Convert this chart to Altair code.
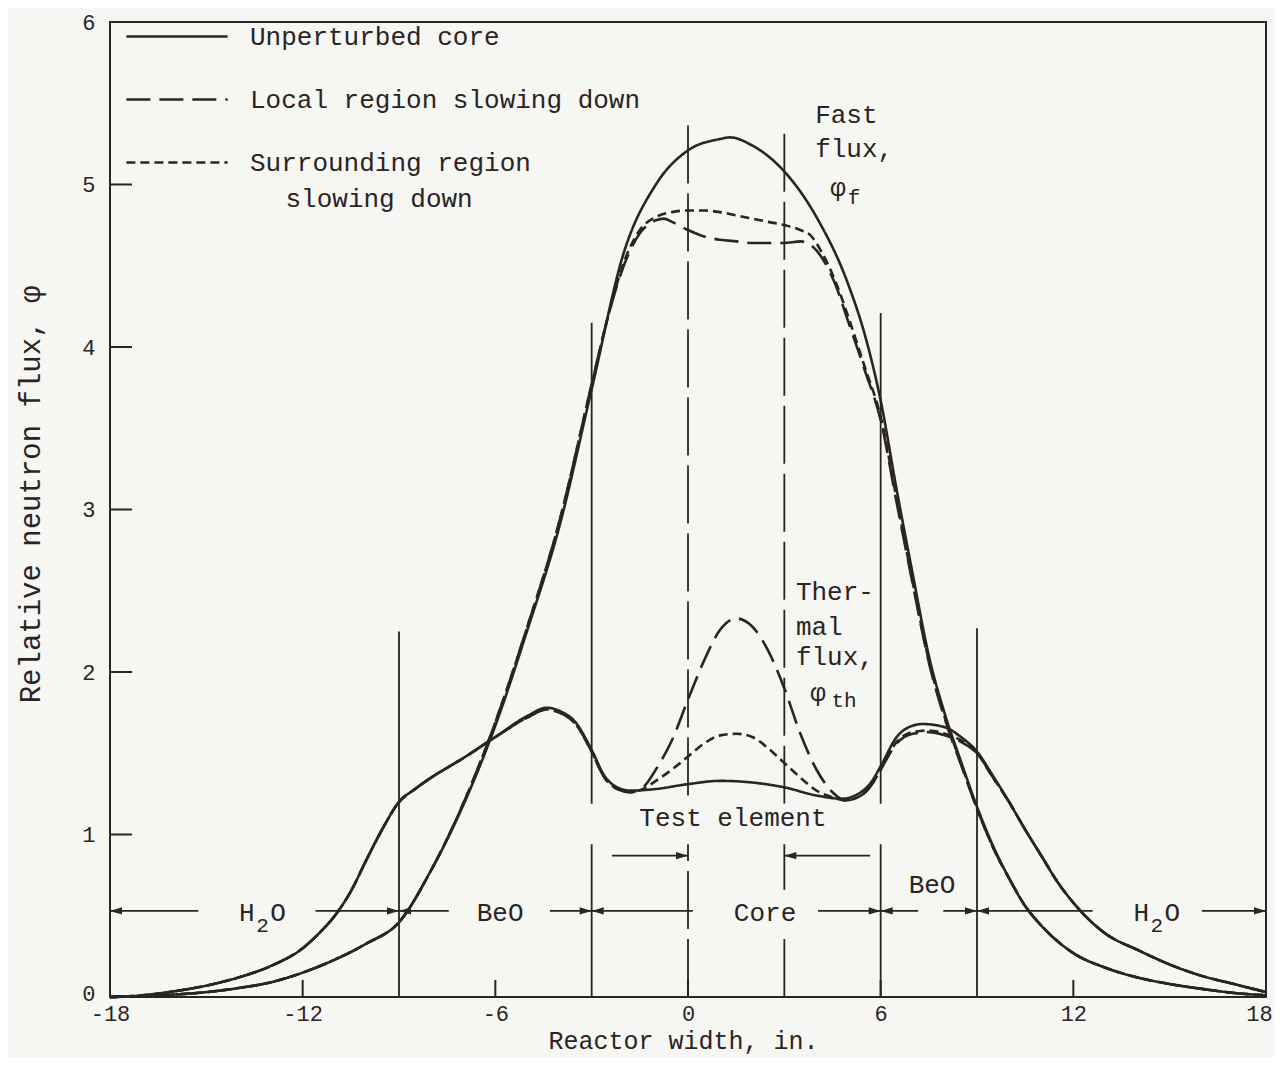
import altair as alt
import pandas as pd

INK = "#2a2424"
BG = "#f6f6f3"
FONT = "Liberation Mono"

# ---------------- data ----------------
series_names = ["Unperturbed core", "Local region slowing down", "Surrounding region slowing down"]

# Fast flux
fast_unpert_x = [-18, -17, -16, -15, -14, -13, -12, -11, -10, -9, -8, -7, -6, -5, -4, -3,
                 -2, -1, 0, 1, 1.3, 2, 3, 4, 5, 5.5, 6,
                 6.5, 7, 7.5, 8, 8.5, 9, 9.5, 10, 10.5, 11,
                 12, 13, 14, 15, 16, 17, 18]
fast_unpert_y = [0, 0.005, 0.015, 0.03, 0.055, 0.09, 0.15, 0.23, 0.33, 0.46, 0.78, 1.18, 1.67, 2.26, 2.9, 3.74,
                 4.58, 5.0, 5.21, 5.28, 5.29, 5.24, 5.08, 4.8, 4.38, 4.08, 3.67,
                 3.12, 2.6, 2.1, 1.74, 1.45, 1.17, 0.93, 0.73, 0.56, 0.44,
                 0.27, 0.18, 0.12, 0.08, 0.05, 0.025, 0.01]

fast_local_x = [-18, -17, -16, -15, -14, -13, -12, -11, -10, -9, -8, -7, -6, -5, -4, -3,
                -2.5, -2, -1.5, -1, -0.75, -0.5, 0, 0.5, 1, 1.5, 2, 2.5, 3, 3.5, 3.8, 4.2, 4.6, 5, 5.5, 6,
                6.5, 7, 7.5, 8, 8.5, 9, 9.5, 10, 10.5, 11,
                12, 13, 14, 15, 16, 17, 18]
fast_local_y = [0, 0.005, 0.015, 0.03, 0.055, 0.09, 0.15, 0.23, 0.33, 0.46, 0.78, 1.19, 1.69, 2.28, 2.93, 3.77,
                4.18, 4.5, 4.7, 4.78, 4.79, 4.77, 4.72, 4.68, 4.66, 4.65, 4.64, 4.64, 4.64, 4.65, 4.63, 4.54, 4.38, 4.15, 3.86, 3.55,
                3.04, 2.54, 2.06, 1.71, 1.43, 1.16, 0.92, 0.73, 0.56, 0.44,
                0.27, 0.18, 0.12, 0.08, 0.05, 0.025, 0.01]

fast_surr_x = [-18, -17, -16, -15, -14, -13, -12, -11, -10, -9, -8, -7, -6, -5, -4, -3,
               -2.5, -2, -1.5, -1, -0.5, 0, 0.5, 1, 1.5, 2, 2.5, 3, 3.5, 3.8, 4.2, 4.6, 5, 5.5, 6,
               6.5, 7, 7.5, 8, 8.5, 9, 9.5, 10, 10.5, 11,
               12, 13, 14, 15, 16, 17, 18]
fast_surr_y = [0, 0.005, 0.015, 0.03, 0.055, 0.09, 0.15, 0.23, 0.33, 0.46, 0.78, 1.19, 1.69, 2.28, 2.93, 3.77,
               4.18, 4.52, 4.72, 4.8, 4.83, 4.84, 4.84, 4.83, 4.81, 4.79, 4.77, 4.75, 4.72, 4.69, 4.57, 4.4, 4.18, 3.88, 3.57,
               3.06, 2.55, 2.07, 1.72, 1.44, 1.16, 0.92, 0.73, 0.56, 0.44,
               0.27, 0.18, 0.12, 0.08, 0.05, 0.025, 0.01]

# Thermal flux
therm_unpert_x = [-18, -17, -16, -15, -14, -13, -12,
                  -11.5, -11, -10.5, -10, -9.5, -9, -8.5, -8,
                  -7, -6, -5, -4.4, -4, -3.5, -3, -2.6, -2.2, -1.8,
                  -1, 0, 1, 2, 3, 4, 4.8, 5.3, 5.7, 6,
                  6.5, 7, 7.3, 8, 8.5, 9, 9.5, 10, 10.5, 11, 11.5, 12,
                  13, 14, 15, 16, 17, 18]
therm_unpert_y = [0, 0.01, 0.035, 0.07, 0.12, 0.19, 0.3,
                  0.39, 0.5, 0.65, 0.85, 1.04, 1.2, 1.28, 1.35,
                  1.47, 1.6, 1.73, 1.78, 1.76, 1.69, 1.52, 1.36, 1.29, 1.27,
                  1.28, 1.31, 1.33, 1.32, 1.29, 1.24, 1.22, 1.25, 1.32, 1.42,
                  1.6, 1.67, 1.68, 1.66, 1.6, 1.51, 1.36, 1.2, 1.03, 0.87, 0.71, 0.58,
                  0.39, 0.29, 0.2, 0.13, 0.08, 0.03]

therm_pert_x = [-18, -17, -16, -15, -14, -13, -12,
                -11.5, -11, -10.5, -10, -9.5, -9, -8.5, -8,
                -7, -6, -5, -4.4, -4, -3.5, -3, -2.6, -2.2, -1.8,
                -1.4, -1, -0.5, 0, 0.5, 1, 1.5, 2, 2.5, 3, 3.5, 4, 4.5, 4.9, 5.3, 5.7, 6,
                6.5, 7, 7.5, 8, 8.5, 9, 9.5, 10, 10.5, 11, 11.5, 12,
                13, 14, 15, 16, 17, 18]
therm_local_y = [0, 0.01, 0.035, 0.07, 0.12, 0.19, 0.3,
                 0.39, 0.5, 0.65, 0.85, 1.04, 1.2, 1.28, 1.35,
                 1.47, 1.6, 1.72, 1.77, 1.75, 1.68, 1.51, 1.35, 1.28, 1.26,
                 1.29, 1.4, 1.58, 1.83, 2.07, 2.26, 2.33, 2.28, 2.13, 1.9, 1.62, 1.4, 1.26, 1.21, 1.23, 1.3, 1.4,
                 1.56, 1.62, 1.63, 1.61, 1.57, 1.5, 1.35, 1.2, 1.03, 0.87, 0.71, 0.58,
                 0.39, 0.29, 0.2, 0.13, 0.08, 0.03]
therm_surr_y = [0, 0.01, 0.035, 0.07, 0.12, 0.19, 0.3,
                0.39, 0.5, 0.65, 0.85, 1.04, 1.2, 1.28, 1.35,
                1.47, 1.6, 1.72, 1.77, 1.75, 1.68, 1.51, 1.35, 1.28, 1.26,
                1.28, 1.33, 1.4, 1.48, 1.56, 1.61, 1.62, 1.6, 1.53, 1.44, 1.35, 1.27, 1.23, 1.21, 1.23, 1.3, 1.4,
                1.57, 1.63, 1.64, 1.62, 1.58, 1.5, 1.35, 1.2, 1.03, 0.87, 0.71, 0.58,
                0.39, 0.29, 0.2, 0.13, 0.08, 0.03]

# axis ticks
x_tick_values = [-18, -12, -6, 0, 6, 12, 18]
y_tick_values = [0, 1, 2, 3, 4, 5, 6]

# region boundary segments (solid) and test-element boundary segments (dashed)
bound_x = [-9, -3, -3, 6, 6, 9]
bound_lo = [0, 0, 1.19, 0, 1.19, 0]
bound_hi = [2.25, 0.94, 4.15, 0.94, 4.21, 2.27]
test_x = [0, 0, 3, 3, 3]
test_lo = [0, 1.24, 0, 0.66, 1.19]
test_hi = [0.94, 5.37, 0.37, 0.94, 5.35]

# dimension arrows
arrow_x1 = [-18, -11.6, -9, -4.3, -3, 4.05, 6, 7.95, 9, 16.0, -2.37, 3]
arrow_x2 = [-15.25, -9, -7.45, -3, 0.15, 6, 7.17, 9, 12.6, 18, 0, 5.67]
arrow_y = [0.53] * 10 + [0.87, 0.87]
head_right_x = [-9, -3, 6, 9, 18, 0]
head_right_y = [0.53, 0.53, 0.53, 0.53, 0.53, 0.87]
head_left_x = [-18, -9, -3, 6, 9, 3]
head_left_y = [0.53, 0.53, 0.53, 0.53, 0.53, 0.87]

# text labels
label_text = ["H O", "BeO", "Core", "BeO", "H O", "Test element"]
label_x = [-13.25, -5.85, 2.4, 7.6, 14.6, 1.4]
label_y = [0.52, 0.52, 0.52, 0.69, 0.52, 1.10]
subscript2_x = [-13.25, 14.6]
subscript2_y = [0.44, 0.44]

note_text = ["Fast", "flux,", "Ther-", "mal", "flux,"]
note_x = [3.96, 3.96, 3.36, 3.36, 3.36]
note_y = [5.43, 5.22, 2.49, 2.28, 2.09]

phi_text = ["φ", "φ"]
phi_x = [4.67, 4.05]
phi_y = [4.98, 1.87]
sub_text = ["f", "th"]
sub_x = [5.17, 4.86]
sub_y = [4.92, 1.82]

legend_extra_text = ["slowing down"]
legend_extra_x = [-9.62]
legend_extra_y = [4.91]

# ---------------- build tables ----------------
def curve_df(series, curve, xs, ys):
    assert len(xs) == len(ys), (series, curve, len(xs), len(ys))
    return pd.DataFrame({"x": xs, "y": ys, "series": series, "curve": curve + "|" + series})

curves_df = pd.concat([
    curve_df(series_names[0], "fast", fast_unpert_x, fast_unpert_y),
    curve_df(series_names[1], "fast", fast_local_x, fast_local_y),
    curve_df(series_names[2], "fast", fast_surr_x, fast_surr_y),
    curve_df(series_names[0], "thermal", therm_unpert_x, therm_unpert_y),
    curve_df(series_names[1], "thermal", therm_pert_x, therm_local_y),
    curve_df(series_names[2], "thermal", therm_pert_x, therm_surr_y),
], ignore_index=True)

xscale = alt.Scale(domain=[-18, 18], nice=False, zero=False)
yscale = alt.Scale(domain=[0, 6], nice=False, zero=False)

x_axis = alt.Axis(values=x_tick_values, ticks=False, grid=False, domain=False,
                  labelFont=FONT, labelFontSize=22, labelColor=INK, labelPadding=6,
                  labelExpr="datum.value + ''", labelFlush=False,
                  labelOffset={"condition": {"test": "datum.value == 18", "value": -7},
                               "value": 0},
                  title="Reactor width, in.", titleFont=FONT, titleFontSize=25,
                  titleFontWeight="normal", titleColor=INK, titleX=573, titleY=43,
                  titleBaseline="middle", titleAlign="center")
y_axis = alt.Axis(values=y_tick_values, ticks=False, grid=False, domain=False,
                  labelFont=FONT, labelFontSize=22, labelColor=INK, labelPadding=15,
                  labelOffset={"condition": {"test": "datum.value == 0", "value": -4},
                               "value": 0},
                  title="Relative neutron flux, φ", titleFont=FONT, titleFontSize=29,
                  titleFontWeight="normal", titleColor=INK, titleX=-80, titleY=472,
                  titleAngle=270, titleBaseline="middle", titleAlign="center")


def X(field):
    return alt.X(field, type="quantitative", scale=xscale, axis=x_axis)


def Y(field):
    return alt.Y(field, type="quantitative", scale=yscale, axis=y_axis)


curves = alt.Chart(curves_df).mark_line(interpolate="monotone", strokeWidth=2.6, color=INK).encode(
    x=X("x"),
    y=Y("y"),
    strokeDash=alt.StrokeDash(
        "series:N",
        scale=alt.Scale(domain=series_names, range=[[1, 0], [24, 9], [9, 5]]),
        legend=alt.Legend(orient="none", legendX=35, legendY=-17.5, title=None,
                          symbolType="M -1.66 0 L 1.66 0", symbolSize=3721,
                          symbolStrokeWidth=2.6, symbolStrokeColor=INK,
                          symbolFillColor="transparent",
                          labelFont=FONT, labelFontSize=26,
                          labelColor=INK, labelOffset=41, rowPadding=18, padding=0,
                          labelLimit=0,
                          labelExpr="datum.label == 'Surrounding region slowing down' ? 'Surrounding region' : datum.label"),
    ),
    detail="curve:N",
)

bounds_df = pd.DataFrame({"x": bound_x, "lo": bound_lo, "hi": bound_hi})
bounds = alt.Chart(bounds_df).mark_rule(color=INK, strokeWidth=1.8).encode(
    x=X("x"), y=Y("lo"), y2="hi")

test_df = pd.DataFrame({"x": test_x, "lo": test_lo, "hi": test_hi})
test_lines = alt.Chart(test_df).mark_rule(color=INK, strokeWidth=1.8, strokeDash=[58, 10]).encode(
    x=X("x"), y=Y("lo"), y2="hi")

arrows_df = pd.DataFrame({"x1": arrow_x1, "x2": arrow_x2, "y": arrow_y})
arrows = alt.Chart(arrows_df).mark_rule(color=INK, strokeWidth=1.8).encode(
    x=X("x1"), x2="x2", y=Y("y"))

hr_df = pd.DataFrame({"x": head_right_x, "y": head_right_y})
heads_right = alt.Chart(hr_df).mark_point(
    shape="M -1 -0.3 L 0 0 L -1 0.3 Z", filled=True, size=576, color=INK, opacity=1).encode(
    x=X("x"), y=Y("y"))
hl_df = pd.DataFrame({"x": head_left_x, "y": head_left_y})
heads_left = alt.Chart(hl_df).mark_point(
    shape="M 1 -0.3 L 0 0 L 1 0.3 Z", filled=True, size=576, color=INK, opacity=1).encode(
    x=X("x"), y=Y("y"))

xt_df = pd.DataFrame({"x": x_tick_values, "y": 0.0})
x_ticks = alt.Chart(xt_df).mark_tick(orient="vertical", size=34, thickness=2, color=INK,
                                      clip=True, opacity=1).encode(x=X("x"), y=Y("y"))
yt_df = pd.DataFrame({"x": -18.0, "y": y_tick_values})
y_ticks = alt.Chart(yt_df).mark_tick(orient="horizontal", size=44, thickness=2, color=INK,
                                      clip=True, opacity=1).encode(x=X("x"), y=Y("y"))

labels_df = pd.DataFrame({"x": label_x, "y": label_y, "t": label_text})
labels = alt.Chart(labels_df).mark_text(font=FONT, fontSize=26, color=INK, align="center",
                                        baseline="middle").encode(x=X("x"), y=Y("y"), text="t:N")
sub2_df = pd.DataFrame({"x": subscript2_x, "y": subscript2_y, "t": ["2", "2"]})
sub2 = alt.Chart(sub2_df).mark_text(font=FONT, fontSize=21, color=INK, align="center",
                                    baseline="middle").encode(x=X("x"), y=Y("y"), text="t:N")

notes_df = pd.DataFrame({"x": note_x, "y": note_y, "t": note_text})
notes = alt.Chart(notes_df).mark_text(font=FONT, fontSize=26, color=INK, align="left",
                                      baseline="middle").encode(x=X("x"), y=Y("y"), text="t:N")

phi_df = pd.DataFrame({"x": phi_x, "y": phi_y, "t": phi_text})
phis = alt.Chart(phi_df).mark_text(font=FONT, fontSize=26, color=INK, align="center",
                                   baseline="middle").encode(x=X("x"), y=Y("y"), text="t:N")
sub_df = pd.DataFrame({"x": sub_x, "y": sub_y, "t": sub_text})
subs = alt.Chart(sub_df).mark_text(font=FONT, fontSize=21, color=INK, align="center",
                                   baseline="middle").encode(x=X("x"), y=Y("y"), text="t:N")

extra_df = pd.DataFrame({"x": legend_extra_x, "y": legend_extra_y, "t": legend_extra_text})
extra = alt.Chart(extra_df).mark_text(font=FONT, fontSize=26, color=INK, align="center",
                                      baseline="middle").encode(x=X("x"), y=Y("y"), text="t:N")

chart = alt.layer(
    curves, bounds, test_lines, arrows, heads_right, heads_left, x_ticks, y_ticks,
    labels, sub2, notes, phis, subs, extra,
).properties(
    width=1156, height=975,
    autosize=alt.AutoSizeParams(type="none"),
    padding={"left": 102, "top": 14, "right": 8, "bottom": 60},
    background=BG,
).configure_view(stroke=INK, strokeWidth=2).configure_legend(rowPadding=18)

chart.save("out.html", embed_options={"renderer": "svg", "actions": False})
